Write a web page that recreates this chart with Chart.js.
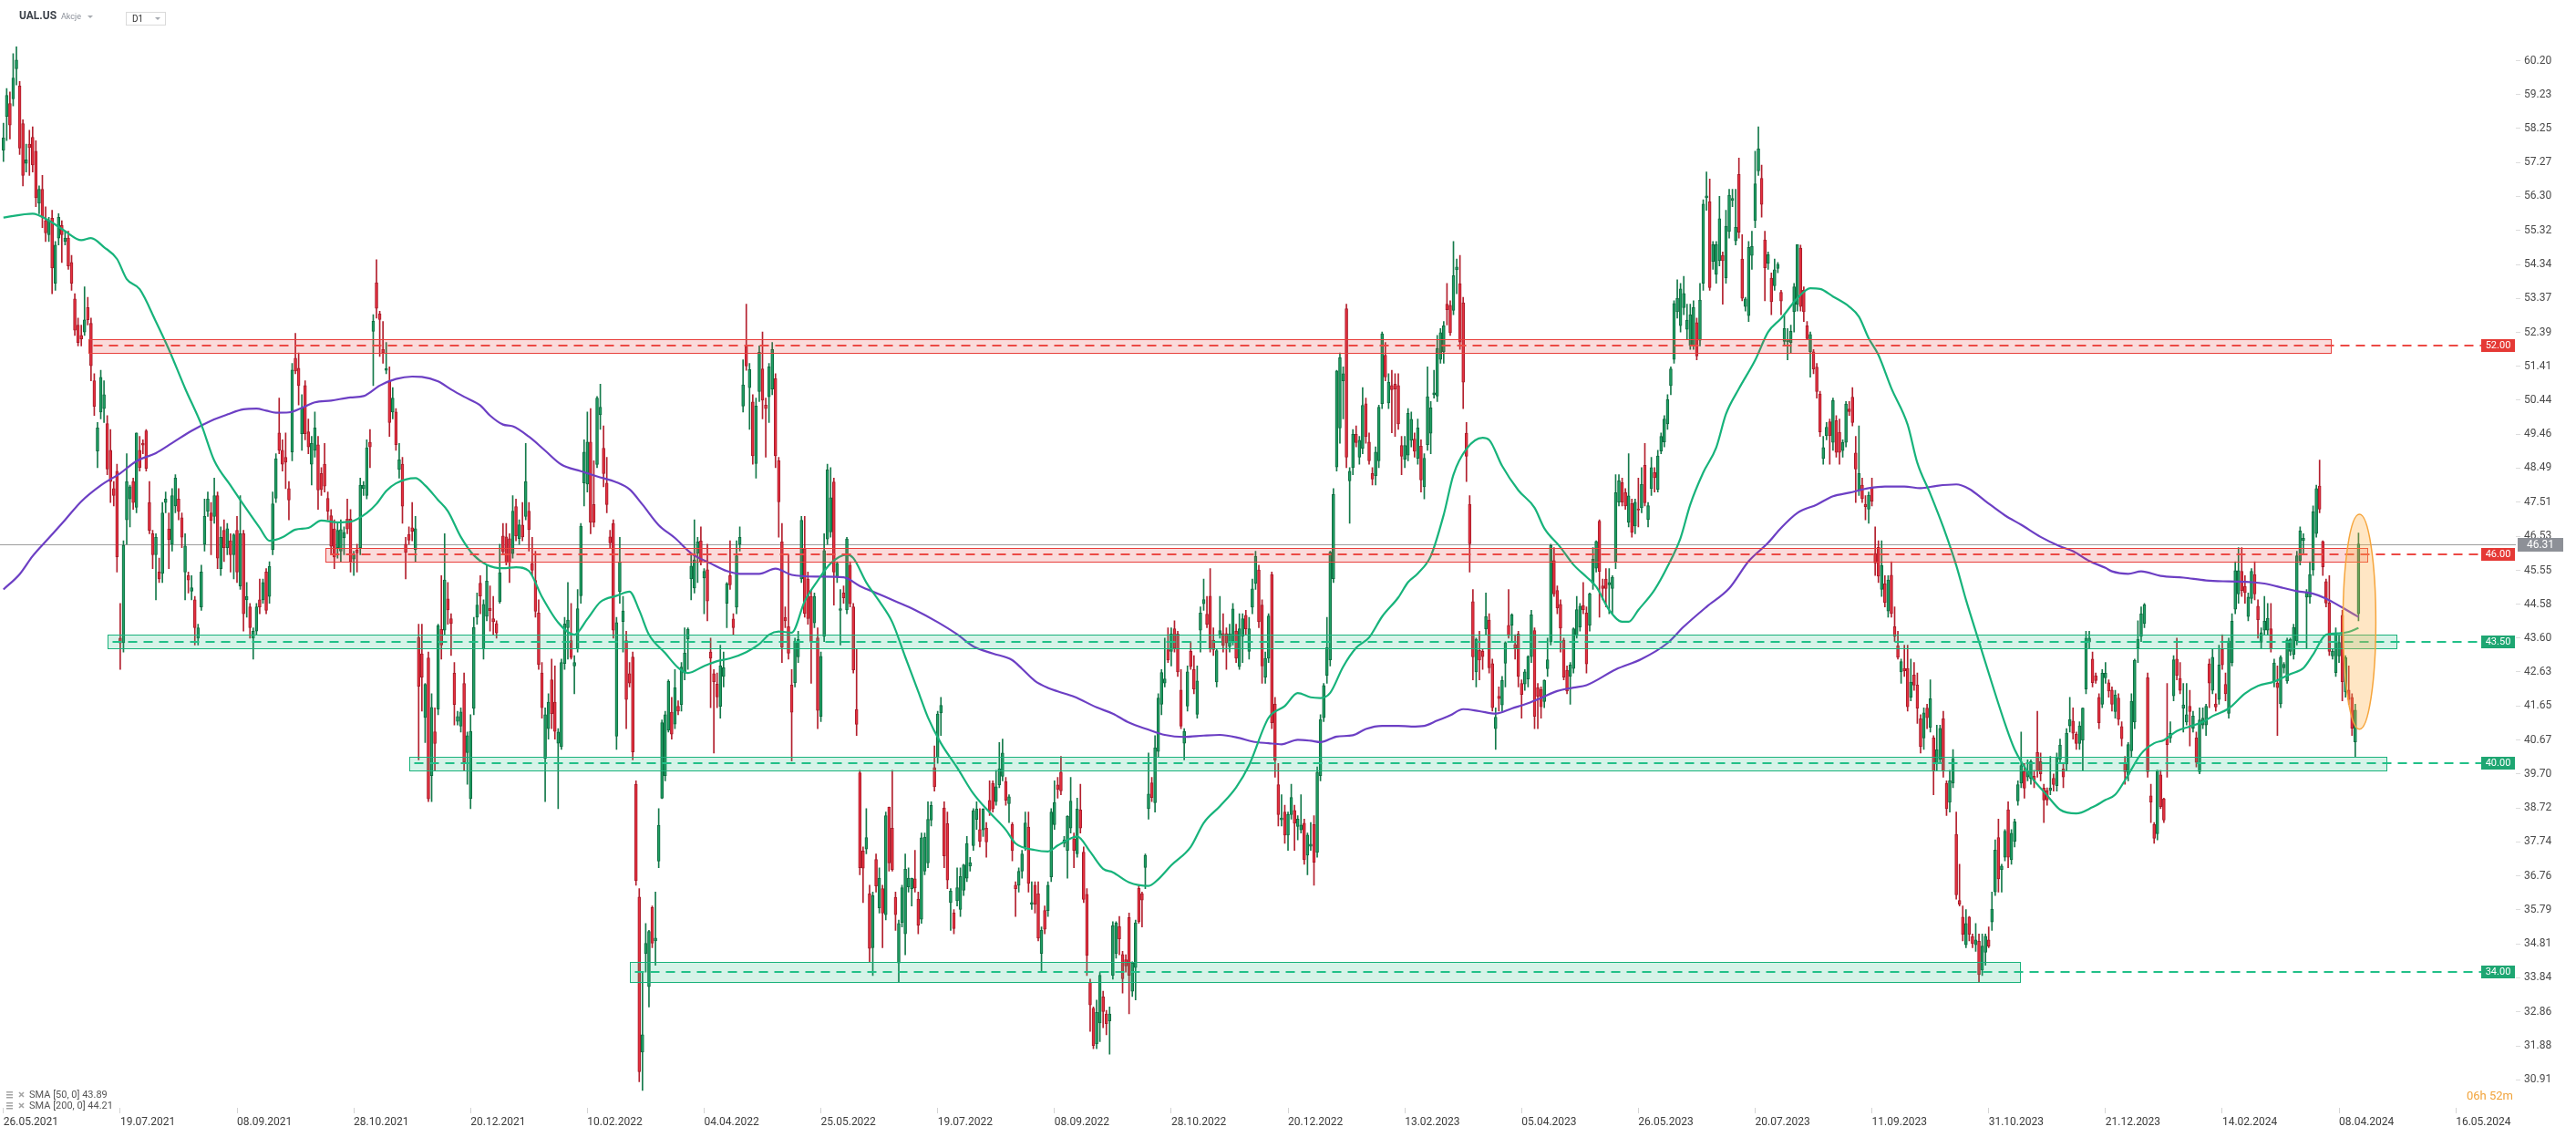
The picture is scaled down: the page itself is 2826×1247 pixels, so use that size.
<!DOCTYPE html>
<html>
<head>
<meta charset="utf-8">
<title>UAL.US D1</title>
<script src="https://cdn.jsdelivr.net/npm/chart.js"></script>
<style>
  html, body { margin: 0; padding: 0; background: #fff; }
  canvas { display: block; }
</style>
</head>
<body>
<canvas id="chart" width="2826" height="1247"></canvas>
<script>
// Tick labels (one every 36 sessions) and price labels of the right axis
const tickDates = ['26.05.2021', '19.07.2021', '08.09.2021', '28.10.2021', '20.12.2021', '10.02.2022',
  '04.04.2022', '25.05.2022', '19.07.2022', '08.09.2022', '28.10.2022', '20.12.2022', '13.02.2023',
  '05.04.2023', '26.05.2023', '20.07.2023', '11.09.2023', '31.10.2023', '21.12.2023', '14.02.2024',
  '08.04.2024', '16.05.2024'];
const yTicks = [60.20, 59.23, 58.25, 57.27, 56.30, 55.32, 54.34, 53.37, 52.39, 51.41, 50.44, 49.46, 48.49,
  47.51, 46.53, 45.55, 44.58, 43.60, 42.63, 41.65, 40.67, 39.70, 38.72, 37.74, 36.76, 35.79, 34.81, 33.84,
  32.86, 31.88, 30.91];

// Daily candles [open, high, low, close]
const ohlcA = [ // from 26.05.2021
[57.63,58.4,57.3,57.98],[58.6,59.4,57.9,59.2],[58.97,59.3,57.95,58.35],[59.1,60.4,58.9,59.7],[59.97,60.6,59.5,60.22],
[59.47,59.6,57.5,57.69],[58.39,58.5,56.6,56.9],[57.25,57.8,57.0,57.35],[57.8,58.2,56.9,57.7],[58.0,58.3,57.0,57.2],
[57.6,57.9,56.0,56.26],[56.1,56.6,55.8,56.5],[56.5,56.9,55.4,55.7],[55.6,56.0,55.0,55.25],[55.2,55.7,55.0,55.6],
[55.67,55.9,53.5,54.24],[53.8,55.0,53.6,54.9],[55.1,55.8,54.9,55.7],[55.46,55.6,54.4,55.2],[55.0,55.3,54.9,55.1],
[55.1,55.3,54.2,54.3],[54.4,54.6,53.6,53.8],[53.35,53.5,52.3,52.45],[52.6,52.8,52.0,52.1],[52.3,52.6,52.0,52.2],
[52.4,53.7,52.3,52.75],[53.1,53.4,52.6,52.75],[52.65,52.8,51.0,51.43],[51.0,51.2,50.0,50.26],[48.98,49.8,48.5,49.64],
[50.1,51.3,49.9,51.1],[50.2,51.0,49.8,50.6],[49.77,50.0,48.3,48.46],[49.0,49.6,47.5,48.1],[47.9,48.1,47.4,47.7],
[48.4,48.6,45.5,45.94],[43.6,44.6,42.7,43.46],[43.47,46.4,43.2,46.27],[47.0,48.9,46.3,48.1],[47.6,48.0,46.8,47.95],
[48.1,48.2,47.3,47.5],[47.36,49.5,47.2,49.5],[49.0,49.4,48.4,48.5],[49.2,49.3,48.9,49.15],[49.56,49.6,48.4,48.48],
[47.5,48.1,46.6,46.7],[46.6,46.7,45.6,46.0],[46.0,46.6,44.7,46.5],[45.5,45.9,45.2,45.3],[45.46,47.5,45.2,47.2],
[47.5,47.8,47.2,47.6],[46.74,47.2,45.6,46.43],[46.3,47.9,46.1,47.7],[47.4,48.3,47.2,48.2],[47.6,47.9,47.0,47.25],
[47.06,47.2,46.2,46.5],[45.5,46.6,44.7,46.25],[45.4,45.5,44.9,45.27],[44.95,45.4,44.7,45.05],[44.7,44.8,43.4,43.9],
[43.6,44.0,43.4,43.9],[44.5,45.7,44.4,45.5],[46.3,47.6,46.1,47.1],[47.25,47.8,47.1,47.6],[47.2,47.5,46.0,46.98],
[47.1,48.2,46.9,47.7],[47.7,47.8,45.6,45.9],[45.6,46.8,45.4,46.5],[46.7,47.0,45.8,46.2],[46.2,46.9,46.0,46.75],
[46.4,46.6,45.5,46.0],[46.0,46.6,45.3,46.57],[46.7,47.1,45.2,45.5],[45.1,47.7,45.0,46.6],[46.6,46.7,43.8,44.3],
[44.7,45.2,44.2,44.8],[44.5,44.6,43.6,43.9],[43.6,43.9,43.0,43.8],[43.8,44.6,43.7,44.5],[44.7,45.3,44.3,44.5],
[44.7,45.3,44.6,45.2]];
const ohlcB = [
[45.5,45.6,44.3,44.4],[44.8,45.8,44.6,45.66],[46.14,47.8,46.0,47.46],[47.62,48.9,47.5,48.76],[49.5,50.5,48.9,49.0],
[49.0,49.3,48.4,48.6],[48.8,49.5,47.9,48.66],[47.9,48.1,47.0,47.57],[48.95,51.5,48.7,51.31],[51.65,52.36,51.2,51.28],
[51.36,51.8,50.3,50.86],[49.48,50.6,49.0,50.22],[50.86,51.0,49.3,49.48],[49.53,49.9,48.9,49.1],[48.6,49.4,48.0,49.2],
[49.0,50.1,48.8,49.64],[49.16,49.4,47.3,47.86],[48.33,48.5,47.7,47.87],[48.6,49.2,47.8,47.97],[47.62,47.8,47.0,47.25],
[47.12,47.3,46.0,46.24],[46.74,47.0,45.6,45.93],[46.2,46.9,45.9,46.7],[46.1,47.0,45.8,46.72],[46.48,46.8,46.0,46.64],
[47.02,47.6,46.6,46.74],[47.02,47.3,45.5,45.8],[45.87,46.1,45.4,46.0],[46.13,46.3,45.5,46.05],[46.2,48.2,46.0,48.0],
[47.9,48.1,47.7,48.0],[47.7,49.3,47.6,49.07],[49.23,49.6,48.5,49.1],[52.42,52.9,50.86,52.71],[53.82,54.48,52.8,53.08],
[52.92,53.0,51.7,52.76],[51.9,52.7,51.5,51.8],[51.3,52.1,51.2,51.35],[51.0,51.4,49.4,49.8],[50.1,50.8,49.9,50.5],
[50.1,50.2,49.0,49.16],[48.45,49.2,48.2,48.73],[48.6,48.8,46.9,47.39],[46.3,46.5,45.3,46.06],[46.58,46.8,46.3,46.42],
[46.77,47.5,46.4,46.67],[46.14,47.1,45.8,46.75],[43.62,44.0,40.1,42.22],[43.15,44.0,41.5,42.48],[41.32,42.3,40.6,42.27],
[43.03,43.2,38.9,38.98],[39.65,42.0,38.9,41.61],[40.91,41.6,39.8,40.57],[41.56,44.0,41.4,43.96],[43.85,45.4,43.0,43.4],
[43.83,46.6,43.7,45.27],[44.73,45.2,44.0,44.41],[44.16,44.3,43.1,44.02],[42.59,42.9,41.1,41.69],[41.21,41.5,41.1,41.35],
[41.07,41.6,40.9,41.48],[42.3,42.6,39.8,40.04],[40.31,40.9,39.4,40.8],[38.99,41.4,38.7,40.92],[41.58,44.2,41.4,43.91],
[44.2,44.9,44.0,44.55],[45.18,45.4,44.3,44.81],[43.3,44.7,43.0,44.57],[44.23,45.7,44.1,45.24],[44.46,45.1,43.8,44.39],
[44.16,44.8,43.7,44.07],[44.02,44.1,43.6,43.75],[44.65,46.3,44.6,45.48],[46.54,46.9,46.0,46.08],[46.51,46.9,45.7,45.77],
[46.46,46.6,45.2,45.77],[46.03,47.7,45.9,47.25],[47.38,47.6,46.4,46.54],[46.46,47.0,46.3,46.86],[46.85,47.5,46.4,46.51],
[47.1,49.2,47.0,48.1],[47.25,47.5,46.1,46.72]];
const ohlcC = [
[45.75,46.5,45.4,45.55],[45.26,46.1,44.2,44.37],[44.32,44.7,42.7,42.84],[42.6,42.9,41.3,41.6],[40.14,41.6,38.9,41.4],
[41.0,42.0,40.7,41.76],[42.4,43.0,41.0,41.43],[41.76,42.8,40.7,40.92],[40.58,41.0,38.7,40.9],[40.48,43.0,40.4,42.9],
[42.87,44.2,42.7,44.01],[43.9,45.2,43.0,44.12],[43.53,44.6,43.0,43.04],[42.8,43.1,42.0,42.9],[43.3,45.0,43.2,44.45],
[44.82,46.9,44.6,46.82],[48.06,49.3,47.4,48.95],[48.03,50.1,47.8,49.24],[49.24,50.2,46.6,46.93],[47.44,48.7,46.8,46.93],
[48.59,50.55,48.5,50.5],[50.02,50.9,49.6,50.24],[49.06,49.7,47.95,48.33],[48.06,48.8,47.2,47.44],[46.51,46.7,46.2,46.34],
[46.9,47.0,43.6,43.83],[40.78,44.2,40.4,44.05],[44.94,46.5,44.6,45.79],[44.08,44.8,43.2,44.38],[43.53,43.8,41.0,41.84],
[42.58,42.9,42.2,42.31],[43.06,43.2,40.1,40.33],[39.4,39.5,36.5,36.63],[36.16,36.4,30.85,31.14],[31.7,34.0,30.6,32.2],
[34.53,35.4,34.0,34.83],[33.58,35.2,33.0,35.17],[35.86,35.9,34.7,34.83],[34.9,36.3,34.2,34.98],[37.19,38.7,37.0,38.22],
[39.0,41.25,38.99,41.17],[39.65,41.5,39.5,41.4],[40.96,42.4,40.9,42.36],[41.47,41.9,40.7,40.84],[41.13,42.7,41.0,42.18],
[41.64,41.8,41.4,41.5],[41.69,42.9,41.5,42.77],[42.6,43.9,42.4,43.17],[43.58,43.9,42.7,43.86],[45.3,46.0,44.7,45.67],
[45.04,47.0,44.9,45.85],[46.04,46.5,45.2,46.37],[46.39,46.8,45.7,45.78],[45.33,45.6,44.3,45.52],[45.57,46.3,44.1,44.67],
[43.2,43.6,41.6,43.02],[42.58,42.7,40.3,42.35],[42.28,42.6,41.6,41.91],[41.64,43.4,41.3,42.8],[42.5,43.2,42.2,42.75],
[44.6,45.2,43.9,45.16],[45.4,46.4,45.0,45.13],[44.15,44.3,43.7,43.9],[44.49,46.4,44.3,45.97],[46.3,46.8,46.1,46.5],
[50.27,51.6,50.1,50.88],[51.99,53.2,51.3,51.42],[50.8,51.5,49.6,51.32],[50.39,50.6,48.6,48.84],[48.62,50.5,48.2,50.27],
[50.69,52.0,50.4,51.82],[51.34,52.4,49.9,50.44],[50.3,50.5,48.8,50.2],[50.54,51.5,49.8,51.4],[50.76,52.1,50.6,51.9],
[51.06,51.2,48.5,48.84],[48.7,48.8,46.5,47.52],[46.37,46.9,42.9,43.34],[44.2,44.5,43.9,44.1],[43.93,46.0,43.0,43.17],
[42.25,42.7,40.07,41.47]];
const ohlcD = [
[42.32,43.6,42.2,43.51],[43.06,43.8,42.9,43.56],[45.3,47.1,45.2,46.99],[46.17,47.1,44.2,44.31],[45.3,45.5,44.0,44.16],
[44.8,45.0,42.3,43.51],[44.04,44.9,43.9,44.8],[43.61,43.9,41.0,41.52],[41.35,43.2,41.2,43.08],[43.66,46.6,43.5,46.12],
[46.45,48.6,46.3,48.44],[46.65,48.5,46.5,47.64],[48.09,48.2,44.55,45.5],[45.35,45.8,45.2,45.75],[44.4,45.0,43.4,44.45],
[44.9,45.1,44.6,44.76],[44.41,46.5,44.3,46.45],[45.7,45.8,44.5,44.59],[44.5,44.6,42.6,42.69],[41.55,43.3,40.8,41.12],
[39.73,39.8,36.8,37.0],[37.48,37.6,36.0,36.99],[37.54,38.7,37.4,37.87],[36.25,36.5,34.3,34.68],[34.7,36.3,33.9,36.2],
[37.24,37.4,36.3,36.48],[35.85,37.0,35.7,36.7],[36.4,36.5,34.7,35.7],[35.65,38.6,35.5,38.5],[38.74,38.75,36.9,37.14],
[38.14,39.8,36.9,36.95],[36.15,36.3,35.2,35.65],[34.26,35.5,33.7,35.4],[35.43,36.5,35.3,36.43],[35.1,37.4,34.5,36.96],
[36.45,37.0,36.3,36.7],[36.4,36.7,35.9,36.7],[36.68,37.5,36.3,36.42],[36.1,36.3,35.1,35.35],[35.52,38.0,35.4,37.86],
[36.9,38.0,36.8,37.88],[37.14,38.9,37.0,38.39],[38.37,38.9,38.2,38.79],[39.88,40.5,39.2,39.33],[40.17,41.5,40.0,41.42],
[41.45,41.9,40.8,41.67],[38.72,38.9,37.0,37.34],[38.27,38.6,36.4,36.65],[36.0,36.4,35.2,36.33],[35.7,35.8,35.1,35.25],
[36.05,37.0,35.9,36.43],[35.8,37.0,35.6,36.75],[36.35,37.1,36.2,37.08],[36.7,37.9,36.6,37.7],[37.05,37.3,36.9,37.15],
[37.64,38.7,37.5,38.64],[38.39,38.9,38.1,38.69],[38.1,38.7,37.6,37.76],[38.09,38.7,37.9,38.69],[38.14,38.3,37.3,37.74],
[38.94,39.5,38.5,38.64],[39.43,39.5,38.6,38.69],[38.9,39.8,38.8,39.33],[39.38,40.6,39.3,39.85],[39.63,40.7,39.5,40.3],
[39.48,39.6,38.8,38.94],[38.84,39.1,38.3,39.04],[38.24,38.3,37.2,37.49],[36.5,36.6,35.6,36.4],[36.5,37.0,36.3,36.9],
[36.9,37.5,36.7,37.4],[37.59,38.6,37.5,38.29],[38.17,38.6,36.3,36.55],[35.95,36.6,35.8,36.0],[36.5,36.6,35.7,35.95],
[36.25,36.6,34.9,34.98],[34.54,35.3,34.0,35.2],[35.77,35.9,35.1,35.23],[35.77,36.6,35.6,36.5],[36.74,38.7,36.6,38.6],
[38.24,39.5,38.1,38.88],[39.38,39.6,39.0,39.25]];
const ohlcE = [
[39.75,40.2,39.1,39.21],[37.7,37.9,37.6,37.8],[37.5,38.5,36.7,38.48],[38.14,39.6,38.0,38.92],[37.83,38.0,37.0,37.5],
[37.4,39.0,37.3,38.69],[38.66,39.4,38.0,38.14],[37.45,37.6,36.0,36.09],[36.24,36.4,33.9,34.48],[33.71,33.8,32.3,33.06],
[32.96,33.0,31.8,31.89],[31.94,33.2,31.8,32.84],[32.54,34.0,32.0,33.91],[33.29,33.45,32.4,32.87],[32.8,32.9,32.2,32.52],
[32.6,33.0,31.64,32.8],[33.91,35.45,33.8,35.34],[34.53,35.45,34.4,35.41],[35.31,35.6,34.5,34.96],[34.51,34.6,33.4,33.81],
[34.36,34.5,34.0,34.18],[35.57,35.7,32.8,33.91],[33.45,34.3,33.3,34.26],[34.13,35.5,33.2,35.42],[36.41,36.5,35.4,35.45],
[36.26,36.3,35.3,36.07],[37.01,37.4,36.4,37.36],[38.7,40.3,38.4,39.12],[39.44,39.6,38.9,39.02],[38.87,40.8,38.6,40.45],
[40.34,42.0,40.2,41.88],[41.7,42.7,41.4,42.61],[42.31,43.6,42.2,42.43],[43.27,43.9,42.9,42.97],[43.22,43.9,42.8,43.72],
[43.87,44.1,43.2,43.31],[43.72,43.8,42.5,42.63],[42.11,42.7,41.0,41.07],[40.58,41.0,40.1,40.92],[41.65,42.8,41.5,42.63],
[43.22,43.5,42.7,42.78],[42.7,43.1,42.0,42.14],[41.41,42.8,41.3,42.37],[43.83,44.5,43.2,44.32],[44.59,45.3,44.4,44.71],
[44.29,44.8,43.9,44.0],[44.81,45.6,43.2,43.3],[43.54,43.9,43.1,43.27],[42.34,43.3,42.2,43.24],[43.68,44.8,43.6,43.82],
[43.73,44.3,43.2,43.39],[43.73,43.9,42.7,43.46],[43.36,44.0,43.2,43.72],[43.51,44.6,43.4,44.44],[43.8,44.0,42.9,43.02],
[42.78,44.3,42.7,43.87],[43.66,44.3,42.9,44.16],[44.26,44.4,43.7,43.87],[43.22,44.2,43.0,43.87],[44.49,45.3,44.3,45.02],
[45.17,46.1,45.0,45.95],[45.56,45.7,43.9,44.07],[44.55,44.7,42.3,42.8],[42.48,43.2,42.3,43.02],[43.02,44.3,42.9,44.24],
[45.43,45.5,41.0,41.17],[41.7,41.9,39.6,40.09],[39.39,40.0,38.2,38.53],[38.38,39.1,38.2,38.43],[38.6,38.8,37.7,37.94],
[37.94,38.6,37.5,38.53],[38.53,39.4,38.4,39.02],[38.65,38.8,37.5,38.28],[38.19,38.5,37.8,38.4],[38.09,39.1,38.0,38.23],
[38.28,38.4,37.1,37.23],[37.36,38.0,36.8,37.94],[37.62,38.3,37.5,37.68],[38.24,38.5,36.5,37.16],[37.45,39.9,37.3,39.75],
[39.65,41.4,39.5,41.26],[41.31,42.3,41.2,42.24]];
const ohlcF = [
[42.53,44.2,42.3,43.33],[42.98,46.1,42.8,46.07],[45.31,47.9,45.2,47.73],[48.52,51.3,48.4,51.28],[49.64,51.8,49.2,51.66],
[51.0,51.4,49.9,51.2],[53.07,53.2,48.5,48.8],[48.12,48.5,46.9,48.4],[48.5,49.6,48.3,49.46],[49.46,49.7,49.1,49.22],
[48.8,49.4,48.6,49.29],[49.06,50.8,48.9,50.29],[50.34,50.5,49.2,49.39],[49.24,49.5,48.6,48.7],[48.33,48.5,48.0,48.17],
[48.27,49.1,48.0,48.95],[48.7,50.3,48.5,50.24],[50.34,52.4,50.2,52.35],[51.73,52.1,51.0,51.11],[50.36,51.2,50.2,50.96],
[50.86,51.3,49.5,50.74],[50.9,51.2,49.4,50.76],[50.86,51.2,49.6,49.76],[49.14,49.4,48.3,48.83],[48.74,49.4,48.5,49.14],
[48.86,50.2,48.7,50.06],[49.29,50.1,49.1,49.89],[49.32,49.5,48.8,48.97],[48.77,49.9,48.6,49.64],[49.12,49.3,47.8,48.15],
[47.95,48.9,47.6,48.77],[49.16,51.4,49.0,50.54],[49.49,50.4,48.9,50.22],[50.6,51.3,50.5,50.65],[50.56,52.3,50.4,51.93],
[51.61,52.5,51.5,52.38],[51.83,52.7,51.5,52.58],[53.2,53.8,52.6,53.04],[53.17,53.3,52.3,52.38],[53.02,55.0,52.9,54.02],
[54.19,54.5,53.5,54.27],[53.79,54.6,51.9,52.11],[53.24,53.4,50.2,50.96],[49.49,49.8,48.1,48.83],[47.45,47.7,45.5,46.31],
[44.65,45.0,42.4,43.06],[42.63,43.6,42.2,43.57],[43.25,43.8,42.4,42.97],[43.22,43.3,42.7,43.07],[43.87,44.9,43.7,44.22],
[44.12,44.3,42.6,42.75],[42.87,43.0,41.5,41.6],[41.0,41.6,40.4,41.33],[41.93,42.2,41.5,41.86],[41.68,42.5,41.5,42.38],
[42.88,43.5,42.2,43.47],[43.97,45.0,43.6,43.67],[43.97,44.3,43.5,44.27],[43.42,43.7,43.0,43.32],[43.72,43.8,42.2,42.5],
[42.3,42.4,41.3,41.98],[42.28,42.7,42.1,42.63],[42.43,43.1,42.2,43.07],[43.07,44.4,42.9,44.27],[43.82,43.9,41.0,41.35],
[42.18,42.3,41.0,41.93],[42.13,42.2,41.3,41.63],[41.78,42.4,41.6,42.38],[42.72,43.6,42.5,42.98],[43.49,46.3,43.4,46.26],
[45.83,46.2,44.8,44.87],[44.97,45.1,44.3,44.47],[44.57,44.7,43.2,43.89],[43.54,43.6,42.4,42.48],[42.68,42.8,42.0,42.08],
[42.5,42.9,41.7,42.83],[42.73,43.9,42.6,43.87],[43.67,44.8,43.6,44.42],[43.92,44.6,43.8,44.52],[44.54,45.2,44.3,44.42],
[44.32,44.5,42.6,42.86],[43.97,44.9,43.8,44.87]];
const ohlcG = [
[45.18,46.2,45.0,45.87],[45.61,46.4,45.5,46.38],[46.96,47.0,44.2,45.52],[45.1,45.3,44.7,45.03],[45.3,45.6,44.5,45.03],
[45.13,45.6,44.3,45.2],[45.03,45.4,44.3,45.35],[45.78,48.3,45.6,47.78],[47.51,48.3,47.4,48.12],[48.07,48.2,47.4,47.51],
[47.78,47.9,47.3,47.4],[46.93,48.9,46.8,47.69],[47.47,47.6,46.5,46.64],[46.82,47.6,46.6,47.51],[47.32,48.2,46.8,47.28],
[47.35,48.5,47.2,48.02],[48.57,49.2,47.4,47.49],[47.01,47.5,46.8,47.41],[47.9,48.8,47.7,48.5],[48.36,48.5,47.8,48.21],
[47.88,49.0,47.8,48.84],[48.98,49.5,48.9,49.4],[49.24,50.0,49.1,49.9],[49.76,50.6,49.6,50.46],[50.86,51.4,50.6,51.34],
[51.61,53.3,51.5,53.22],[52.98,53.9,52.8,53.37],[52.58,53.8,52.4,53.64],[53.1,54.0,52.9,53.51],[52.48,53.2,52.2,52.74],
[52.02,53.2,51.9,52.89],[52.02,53.3,51.9,53.1],[52.67,52.8,51.6,51.71],[52.16,53.8,52.0,53.32],[53.8,56.2,53.6,56.08],
[56.26,57.0,55.9,56.31],[56.14,56.8,53.6,53.68],[54.43,55.0,54.2,54.91],[54.06,55.0,53.8,54.91],[54.45,56.3,54.3,55.66],
[54.6,54.7,53.2,54.45],[53.96,55.9,53.8,55.44],[55.29,56.5,55.1,56.33],[56.18,56.5,56.0,56.24],[55.02,56.5,54.9,55.41],
[56.93,57.4,55.1,55.27],[54.5,55.2,53.3,53.37],[53.13,53.4,53.0,53.35],[52.87,55.0,52.7,54.83],[54.6,55.3,54.2,54.86],
[55.6,57.6,55.4,56.66],[57.03,58.3,56.9,57.66],[56.82,57.2,55.7,56.07],[55.05,55.3,53.3,54.25],[54.37,54.7,54.2,54.62],
[53.95,54.1,52.9,53.27],[53.73,54.5,53.6,54.19],[54.23,54.4,54.1,54.35],[53.54,53.6,52.9,53.29],[52.13,52.9,52.0,52.5],
[52.12,52.5,51.6,52.19],[52.1,52.6,51.8,52.42],[52.98,53.8,52.4,53.7],[53.19,54.9,53.0,54.91],[54.81,54.9,53.0,53.13],
[53.6,53.7,52.7,52.98],[52.58,52.7,52.2,52.21],[51.83,52.4,51.1,52.33],[51.83,51.9,51.2,51.34],[51.39,51.5,50.5,50.69],
[50.62,50.7,49.4,49.53],[48.76,49.4,48.6,49.08],[49.42,49.8,49.3,49.66],[49.82,49.9,48.6,49.42],[49.23,50.5,49.0,50.43],
[49.85,50.0,48.8,48.94],[49.52,49.9,48.6,48.94],[48.99,49.3,48.8,49.23],[49.23,50.4,49.1,50.33],[50.19,50.4,50.0,50.11],
[50.53,50.8,49.7,49.8]];
const ohlcH = [
[48.92,49.4,47.5,48.46],[47.86,49.7,47.7,48.33],[48.0,48.2,47.5,47.61],[47.45,47.7,47.0,47.38],[47.31,47.8,46.9,47.71],
[47.91,48.2,47.4,47.54],[46.03,46.8,45.4,45.76],[46.21,46.4,45.2,45.38],[45.0,46.4,44.8,45.69],[45.16,45.4,44.5,44.63],
[44.38,45.4,44.2,45.27],[45.41,45.8,44.2,44.31],[43.93,44.5,43.5,43.65],[43.38,43.8,43.0,43.05],[42.63,43.0,42.3,42.93],
[42.73,43.4,42.5,42.66],[42.73,43.4,41.5,41.63],[41.9,43.0,41.8,42.34],[42.54,42.9,42.1,42.25],[42.25,42.6,41.15,41.59],
[41.28,41.4,40.3,40.49],[40.73,41.6,40.4,41.45],[41.59,41.7,41.0,41.31],[41.04,42.4,40.9,41.86],[40.73,40.8,39.1,39.77],
[39.98,41.1,39.8,40.39],[40.12,41.1,40.0,41.01],[41.28,41.5,39.6,39.77],[39.43,39.5,38.5,38.7],[38.88,39.8,38.6,39.5],
[39.43,40.4,39.3,40.14],[37.96,38.6,36.1,36.22],[36.06,37.1,35.9,35.95],[35.58,35.9,34.9,35.09],[34.79,35.8,34.7,35.4],
[35.58,35.6,34.9,35.09],[35.02,35.1,34.7,34.82],[34.79,35.4,34.6,34.93],[34.89,35.1,33.7,33.93],[34.06,35.1,33.9,34.75],
[34.57,35.1,34.2,35.03],[34.93,35.3,34.7,34.75],[35.44,36.3,35.2,35.81],[36.31,37.8,36.2,37.51],[37.87,38.4,36.3,36.68],
[36.95,37.1,36.3,37.05],[37.3,38.1,37.2,38.05],[38.67,38.9,37.0,37.3],[37.23,38.1,37.1,37.99],[37.76,38.4,37.6,38.32],
[38.92,39.5,38.8,39.39],[39.43,40.9,39.3,39.94],[39.77,40.0,39.0,39.29],[39.61,40.1,39.5,39.77],[39.57,40.1,39.4,40.05],
[39.63,39.8,39.3,39.5],[40.31,41.5,39.6,39.77],[40.05,40.3,39.5,39.7],[39.29,39.4,38.3,38.95],[39.22,39.3,38.8,38.95],
[39.22,40.2,39.1,39.29],[39.57,39.7,39.2,39.39],[39.36,40.3,39.2,40.18],[40.12,40.7,40.0,40.53],[39.84,40.0,39.3,39.61],
[39.98,41.0,39.8,40.87],[41.08,41.9,40.9,41.26],[41.22,41.6,40.7,40.87],[40.84,40.9,40.4,40.57],[40.57,41.2,40.4,41.08],
[40.67,41.6,39.8,41.59],[42.14,43.8,42.0,43.6],[43.49,43.8,43.3,43.6],[43.0,43.2,42.2,42.32],[42.52,42.6,42.3,42.38],
[41.9,42.0,41.0,41.17],[41.7,42.7,41.6,42.59],[42.46,42.9,42.3,42.59],[42.32,42.4,41.9,42.08],[42.11,42.2,41.5,41.7],
[41.49,42.1,41.3,41.97]];
const ohlcI = [ // up to the last session
[41.88,42.0,41.1,41.27],[41.06,41.2,40.5,40.71],[40.02,40.2,39.4,39.76],[39.67,40.6,39.5,40.54],[40.36,42.0,40.2,41.79],
[41.19,43.0,41.0,42.96],[43.32,44.1,42.9,43.57],[43.65,44.5,43.5,44.3],[44.02,44.6,43.9,44.56],[42.46,42.6,39.6,39.76],
[39.07,39.4,38.3,38.89],[38.24,38.3,37.7,37.85],[37.98,39.8,37.8,39.8],[39.67,39.8,38.7,38.76],[38.98,39.0,38.3,38.37],
[40.71,42.3,39.6,40.54],[40.73,41.2,40.6,40.86],[41.94,43.1,41.8,42.98],[43.0,43.6,42.4,42.53],[42.44,42.9,42.0,42.1],
[41.59,42.3,40.9,41.68],[41.19,42.3,41.1,41.4],[41.64,42.1,40.5,41.49],[41.01,41.5,40.9,41.36],[40.73,40.9,39.9,40.03],
[39.76,41.6,39.7,41.25],[41.1,41.6,41.0,41.3],[41.1,41.7,40.8,41.64],[42.86,43.0,41.6,42.31],[42.1,43.3,42.0,43.05],
[41.71,42.0,41.5,41.62],[41.84,43.4,41.7,42.83],[43.28,43.7,42.7,42.83],[42.27,42.6,41.8,42.0],[41.44,43.6,41.3,43.52],
[42.89,44.3,42.8,44.09],[44.43,45.8,44.3,45.54],[44.87,46.2,44.6,45.54],[45.52,46.2,44.8,44.97],[45.08,45.4,44.6,44.91],
[44.22,44.9,44.1,44.78],[44.74,45.6,44.6,45.52],[45.43,45.8,44.7,44.87],[44.52,44.7,43.6,44.13],[43.48,43.9,43.3,43.76],
[43.83,44.8,43.7,44.09],[43.83,44.6,43.7,44.17],[43.87,44.6,43.2,43.29],[42.35,43.0,42.2,42.89],[42.31,42.8,40.8,42.18],
[41.71,43.1,41.6,43.05],[42.75,42.9,42.6,42.85],[42.37,43.6,42.3,43.55],[43.22,43.6,43.1,43.57],[43.13,44.0,43.0,43.91],
[43.52,46.1,43.4,45.97],[45.82,46.8,45.7,46.68],[46.41,46.6,46.0,46.47],[44.78,45.0,43.3,44.91],[44.78,45.8,44.6,45.43],
[45.56,47.4,45.4,47.23],[46.61,48.0,46.5,47.9],[47.97,48.72,47.2,47.31],[46.38,46.4,45.4,45.65],[45.23,45.3,44.5,44.61],
[44.61,45.4,43.1,43.22],[43.09,43.3,43.0,43.22],[42.61,43.9,42.5,43.74],[43.09,43.7,42.9,43.48],[44.26,44.4,41.8,42.35],
[42.05,43.1,41.9,43.04],[42.11,42.8,41.7,41.84],[41.9,42.0,40.8,41.01],[40.62,41.7,40.2,41.53],[44.3,46.62,44.1,46.31]];

// Moving averages: [session index, value]
const sma50Pts = [[0,55.69],[9,55.8],[14,55.6],[19,55.3],[24,55.04],[27,55.1],[31,54.84],[35,54.5],[38,53.92],
[42,53.63],[47,52.7],[51,51.9],[56,50.78],[61,49.74],[65,48.7],[70,47.99],[75,47.3],[79,46.77],[82,46.4],[86,46.5],
[90,46.72],[94,46.77],[98,46.98],[103,46.93],[107,46.95],[112,47.2],[115,47.46],[118,47.83],[121,48.05],[127,48.2],
[130,47.99],[134,47.57],[137,47.25],[141,46.51],[145,45.98],[149,45.71],[154,45.61],[158,45.64],[162,45.53],
[166,44.79],[171,44.05],[176,43.7],[180,44.15],[184,44.64],[189,44.82],[193,44.94],[196,44.4],[199,43.7],[204,43.17],
[208,42.75],[211,42.6],[216,42.8],[220,42.94],[224,43.02],[229,43.2],[233,43.43],[236,43.7],[239,43.79],[243,43.76],
[247,44.66],[251,45.25],[255,45.75],[260,46.0],[262,45.9],[266,45.2],[270,44.66],[274,44.06],[278,43.06],[282,42.07],
[285,41.32],[289,40.58],[294,39.88],[299,39.13],[304,38.59],[309,38.09],[312,37.7],[318,37.51],[322,37.47],[325,37.64],
[328,37.8],[331,37.9],[335,37.46],[339,36.97],[342,36.87],[347,36.58],[353,36.48],[356,36.67],[360,37.07],[366,37.6],
[370,38.29],[375,38.77],[380,39.31],[384,39.95],[390,41.31],[395,41.65],[399,42.02],[403,41.9],[406,41.88],[409,42.03],
[413,42.78],[417,43.32],[421,43.62],[425,44.22],[430,44.77],[433,45.21],[436,45.46],[440,45.96],[444,47.15],[447,48.3],
[451,49.04],[456,49.36],[458,49.3],[462,48.55],[467,47.85],[472,47.35],[475,46.76],[480,46.21],[484,45.71],[488,45.36],
[491,45.08],[495,44.41],[499,44.07],[501,44.07],[504,44.41],[509,44.99],[513,45.66],[517,46.48],[520,47.44],[524,48.36],
[528,49.08],[531,50.04],[535,50.77],[540,51.59],[544,52.4],[548,52.79],[553,53.37],[557,53.66],[560,53.64],[564,53.42],
[569,53.13],[572,52.84],[575,52.22],[578,51.74],[582,50.78],[587,49.74],[590,48.64],[594,47.75],[598,46.79],[602,45.69],
[605,44.7],[609,43.5],[613,42.3],[617,41.15],[620,40.4],[625,39.63],[630,39.08],[634,38.67],[639,38.56],[644,38.74],
[648,38.95],[651,39.1],[655,39.67],[659,40.28],[663,40.58],[666,40.67],[670,40.93],[674,41.06],[678,41.19],[681,41.36],
[686,41.58],[691,42.01],[695,42.23],[700,42.35],[705,42.57],[709,42.74],[712,43.13],[716,43.7],[720,43.74],[723,43.78],
[726,43.89]];
const sma200Pts = [[0,45.0],[5,45.44],[9,45.96],[14,46.48],[19,47.0],[24,47.53],[30,47.99],[36,48.34],[41,48.69],
[47,48.92],[52,49.21],[58,49.56],[64,49.85],[69,50.03],[74,50.18],[78,50.2],[81,50.14],[84,50.08],[88,50.09],[92,50.22],
[96,50.38],[101,50.43],[107,50.52],[111,50.56],[116,50.86],[121,51.05],[126,51.12],[129,51.11],[134,50.98],[138,50.75],
[142,50.54],[147,50.29],[150,50.0],[154,49.74],[157,49.69],[162,49.39],[167,48.99],[172,48.59],[178,48.4],[183,48.25],
[189,48.08],[193,47.88],[197,47.44],[202,46.85],[207,46.48],[212,46.04],[218,45.75],[223,45.53],[227,45.45],[233,45.45],
[238,45.6],[243,45.42],[251,45.37],[259,45.35],[264,45.1],[270,44.86],[275,44.66],[281,44.41],[288,44.06],[294,43.71],
[299,43.36],[305,43.16],[311,42.97],[314,42.72],[318,42.37],[322,42.17],[325,42.07],[330,41.92],[337,41.61],[342,41.43],
[347,41.17],[353,40.97],[358,40.82],[364,40.76],[370,40.8],[375,40.82],[381,40.73],[385,40.63],[390,40.58],[394,40.55],
[399,40.68],[403,40.65],[406,40.61],[411,40.77],[416,40.81],[420,40.99],[425,41.08],[430,41.08],[434,41.06],[438,41.08],
[442,41.23],[446,41.38],[450,41.56],[455,41.5],[460,41.43],[465,41.58],[470,41.73],[474,41.88],[479,42.08],[484,42.18],
[488,42.25],[497,42.7],[505,43.0],[513,43.46],[518,43.93],[525,44.5],[532,45.03],[538,45.81],[544,46.34],[548,46.77],
[553,47.2],[559,47.44],[564,47.68],[569,47.78],[575,47.91],[580,47.96],[586,47.96],[591,47.91],[596,47.98],[602,48.02],
[606,47.89],[611,47.54],[617,47.13],[622,46.86],[628,46.51],[634,46.24],[638,46.1],[643,45.82],[648,45.62],[650,45.52],
[655,45.45],[659,45.52],[665,45.39],[672,45.34],[679,45.26],[686,45.23],[693,45.21],[697,45.17],[703,45.04],[707,44.95],
[712,44.88],[716,44.74],[721,44.48],[726,44.21]];

// Drawn support / resistance zones: level, first and last session they cover
const zoneLevels = [52.00, 46.00, 43.50, 40.00, 34.00];
const zoneFrom = [27, 100, 33, 126, 194];
const zoneTo = [717, 728, 737, 734, 621];
const zoneResistance = [true, true, false, false, false];

const candles = [].concat(ohlcA, ohlcB, ohlcC, ohlcD, ohlcE, ohlcF, ohlcG, ohlcH, ohlcI);
const lastIdx = candles.length - 1;
const lastClose = candles[lastIdx][3];
const slotCount = 775; // sessions plus empty space on the right
const labels = Array.from({ length: slotCount }, (_, i) => String(i));

const wicks = candles.map(c => [c[2], c[1]]);
const bodies = candles.map(c => [Math.min(c[0], c[3]), Math.max(c[0], c[3])]);
const rising = candles.map(c => c[3] >= c[0]);

function sparse(points) {
    const arr = new Array(candles.length).fill(null);
    points.forEach(p => { arr[p[0]] = p[1]; });
    return arr;
}

function caret(ctx, x, y, color) {
    ctx.fillStyle = color;
    ctx.beginPath();
    ctx.moveTo(x - 3, y);
    ctx.lineTo(x + 3, y);
    ctx.lineTo(x, y + 3);
    ctx.closePath();
    ctx.fill();
}

const overlays = {
    id: 'overlays',
    beforeDatasetsDraw(chart) {
        const { ctx, chartArea: a, scales: { y } } = chart;
        const py = Math.round(y.getPixelForValue(lastClose)) + 0.5;
        ctx.save();
        ctx.strokeStyle = '#9c9c9c';
        ctx.lineWidth = 1;
        ctx.beginPath();
        ctx.moveTo(0, py);
        ctx.lineTo(a.right, py);
        ctx.stroke();
        ctx.restore();
    },
    afterDatasetsDraw(chart) {
        const { ctx, chartArea: a, scales: { x, y } } = chart;
        ctx.save();
        zoneLevels.forEach((lv, k) => {
            const red = zoneResistance[k];
            const half = k === 4 ? 0.29 : 0.2;
            const x0 = Math.round(x.getPixelForValue(zoneFrom[k])) - 2.5;
            const x1 = Math.round(x.getPixelForValue(zoneTo[k])) + 2.5;
            const y0 = Math.round(y.getPixelForValue(lv + half)) + 0.5;
            const y1 = Math.round(y.getPixelForValue(lv - half)) + 0.5;
            ctx.fillStyle = red ? 'rgba(229,57,53,0.18)' : 'rgba(26,188,128,0.18)';
            ctx.fillRect(x0, y0, x1 - x0, y1 - y0);
            ctx.strokeStyle = red ? '#e8403c' : '#19b27b';
            ctx.lineWidth = 1;
            ctx.strokeRect(x0, y0, x1 - x0, y1 - y0);

            const ym = Math.round(y.getPixelForValue(lv));
            ctx.setLineDash([10, 7]);
            ctx.lineWidth = 2;
            ctx.strokeStyle = red ? '#ec4a45' : '#22c088';
            ctx.beginPath();
            ctx.moveTo(x0 + 5, ym);
            ctx.lineTo(a.right - 38, ym);
            ctx.stroke();
            ctx.setLineDash([]);

            ctx.fillStyle = red ? '#e53935' : '#1ea672';
            ctx.fillRect(a.right - 38, ym - 7, 37, 14);
            ctx.fillStyle = '#ffffff';
            ctx.font = '11px Roboto';
            ctx.textAlign = 'center';
            ctx.textBaseline = 'middle';
            ctx.fillText(lv.toFixed(2), a.right - 19.5, ym + 0.5);
        });

        // highlight round the last session
        const cx = x.getPixelForValue(lastIdx) + 1;
        const cy = y.getPixelForValue(44.07);
        const ry = y.getPixelForValue(44.07 - 3.09) - cy;
        ctx.beginPath();
        ctx.ellipse(cx, cy, 18, ry, 0, 0, Math.PI * 2);
        ctx.fillStyle = 'rgba(255,176,70,0.32)';
        ctx.fill();
        ctx.strokeStyle = '#f6a53c';
        ctx.lineWidth = 1.5;
        ctx.stroke();
        ctx.restore();
    },
    afterDraw(chart) {
        const { ctx, chartArea: a, scales: { y } } = chart;
        ctx.save();
        // current price badge on the axis
        const py = Math.round(y.getPixelForValue(lastClose));
        ctx.fillStyle = '#8d9097';
        ctx.fillRect(a.right + 2, py - 7, 50, 15);
        ctx.fillStyle = '#ffffff';
        ctx.font = '12px Roboto';
        ctx.textAlign = 'center';
        ctx.textBaseline = 'middle';
        ctx.fillText(lastClose.toFixed(2), a.right + 27, py + 1);

        // instrument header
        ctx.textAlign = 'left';
        ctx.fillStyle = '#3b4048';
        ctx.font = 'bold 12px Roboto';
        ctx.fillText('UAL.US', 21, 18);
        ctx.fillStyle = '#8b9099';
        ctx.font = '9px Roboto';
        ctx.fillText('Akcje', 67, 19);
        caret(ctx, 99, 17, '#a6aab0');
        ctx.strokeStyle = '#dadada';
        ctx.lineWidth = 1;
        ctx.strokeRect(138.5, 13.5, 43, 14);
        ctx.fillStyle = '#333';
        ctx.font = '10px Roboto';
        ctx.fillText('D1', 145, 21);
        caret(ctx, 173, 19, '#a6aab0');

        // indicator legend
        const legend = [
            ['SMA [50, 0] ' + sma50Pts[sma50Pts.length - 1][1].toFixed(2), 1201],
            ['SMA [200, 0] ' + sma200Pts[sma200Pts.length - 1][1].toFixed(2), 1213]
        ];
        legend.forEach(([text, ly]) => {
            ctx.fillStyle = '#a3a3a3';
            ctx.fillRect(7, ly - 4, 7, 1.5);
            ctx.fillRect(7, ly - 1, 7, 1.5);
            ctx.fillRect(7, ly + 2, 7, 1.5);
            ctx.strokeStyle = '#a3a3a3';
            ctx.lineWidth = 1.6;
            ctx.beginPath();
            ctx.moveTo(21, ly - 3); ctx.lineTo(26, ly + 2);
            ctx.moveTo(26, ly - 3); ctx.lineTo(21, ly + 2);
            ctx.stroke();
            ctx.fillStyle = '#555';
            ctx.font = '11px Roboto';
            ctx.fillText(text, 32, ly);
        });

        // time left in the session
        ctx.textAlign = 'right';
        ctx.fillStyle = '#f2a33a';
        ctx.font = '13px Roboto';
        ctx.fillText('06h 52m', a.right - 3, 1203);
        ctx.restore();
    }
};

Chart.defaults.font.family = 'Roboto, "Open Sans", sans-serif';

new Chart(document.getElementById('chart'), {
    type: 'bar',
    data: {
        labels: labels,
        datasets: [
            {
                type: 'line',
                label: 'SMA 50',
                data: sparse(sma50Pts),
                borderColor: '#17b37b',
                borderWidth: 2.2,
                pointRadius: 0,
                spanGaps: true,
                cubicInterpolationMode: 'monotone',
                order: 0
            },
            {
                type: 'line',
                label: 'SMA 200',
                data: sparse(sma200Pts),
                borderColor: '#6c3fc4',
                borderWidth: 2.2,
                pointRadius: 0,
                spanGaps: true,
                cubicInterpolationMode: 'monotone',
                order: 1
            },
            {
                label: 'body',
                data: bodies,
                backgroundColor: rising.map(r => r ? '#1f9e63' : '#e5303f'),
                borderColor: rising.map(r => r ? '#0f6b40' : '#a61c2a'),
                borderWidth: 1,
                borderSkipped: false,
                barThickness: 3,
                minBarLength: 1,
                grouped: false,
                order: 2
            },
            {
                label: 'wick',
                data: wicks,
                backgroundColor: rising.map(r => r ? '#157a4b' : '#b3202e'),
                barThickness: 1,
                grouped: false,
                order: 3
            }
        ]
    },
    options: {
        responsive: false,
        animation: false,
        events: [],
        layout: { padding: { left: 2, right: 0, top: 0, bottom: 0 } },
        plugins: {
            legend: { display: false },
            tooltip: { enabled: false }
        },
        scales: {
            x: {
                type: 'category',
                offset: true,
                grid: {
                    display: true,
                    offset: false,
                    drawOnChartArea: false,
                    drawTicks: true,
                    tickLength: 6,
                    color: c => (c.index % 36 === 0 ? '#d4d4d4' : 'rgba(0,0,0,0)')
                },
                border: { display: false },
                ticks: {
                    autoSkip: false,
                    maxRotation: 0,
                    minRotation: 0,
                    align: 'start',
                    padding: 3,
                    color: '#3c3c3c',
                    font: { size: 12 },
                    callback: (v, i) => (i % 36 === 0 ? (tickDates[i / 36] || '') : '')
                },
                afterFit: s => { s.height = 32; }
            },
            y: {
                type: 'linear',
                position: 'right',
                min: 30.10,
                max: 61.65,
                afterBuildTicks: s => { s.ticks = yTicks.map(v => ({ value: v })); },
                grid: {
                    drawOnChartArea: false,
                    drawTicks: true,
                    tickLength: 5,
                    color: '#dcdcdc'
                },
                border: { display: false },
                ticks: {
                    padding: 4,
                    color: '#4a4a4a',
                    font: { size: 12 },
                    callback: v => Number(v).toFixed(2)
                },
                afterFit: s => { s.width = 66; }
            }
        }
    },
    plugins: [overlays]
});
</script>
</body>
</html>
